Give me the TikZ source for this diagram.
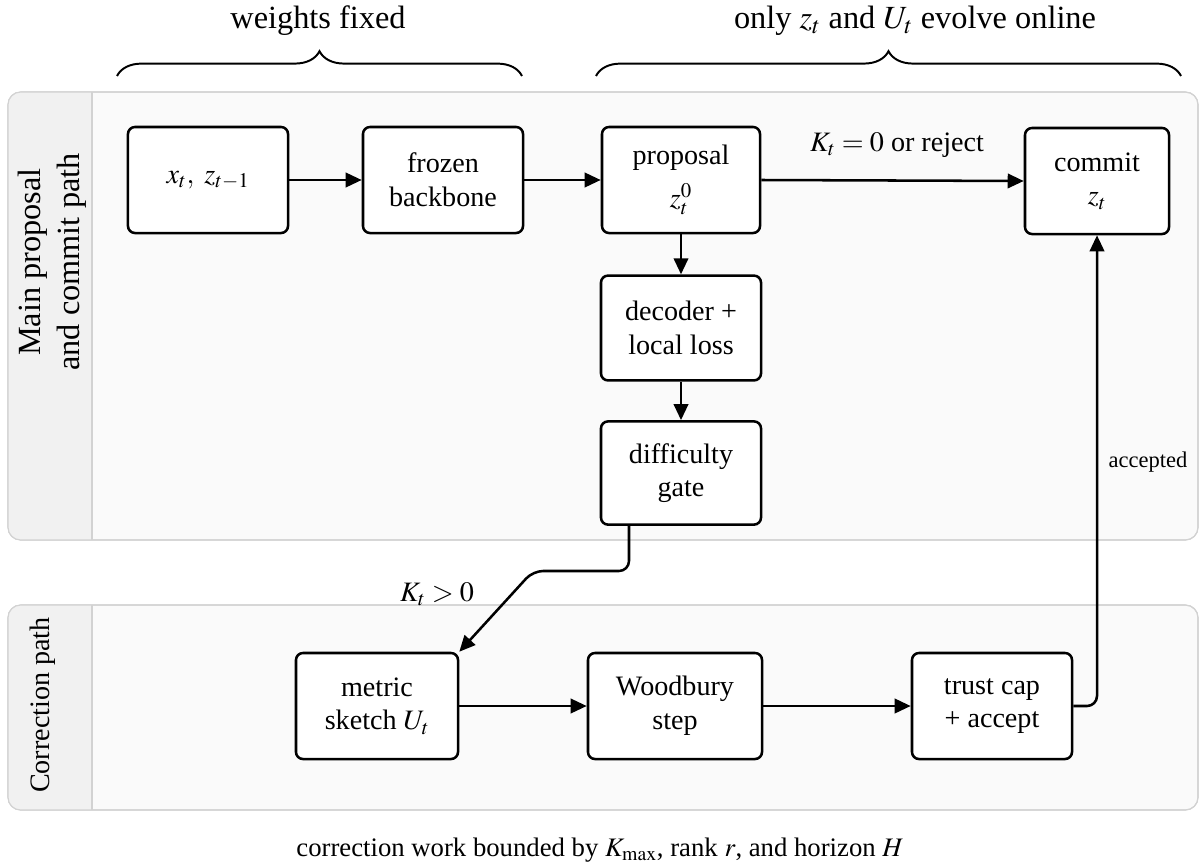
\documentclass[tikz,border=0pt]{standalone}
\usepackage{mathptmx}
\usepackage{fontspec}
\setmainfont{Liberation Serif}
\usetikzlibrary{arrows.meta, decorations.pathreplacing, calc}

\definecolor{laneline}{HTML}{D2D2D2}
\definecolor{lanefill}{HTML}{FAFAFA}
\definecolor{headfill}{HTML}{F1F1F1}

\begin{document}
\begin{tikzpicture}[
    x=0.025cm, y=-0.025cm,
    font=\fontsize{20}{24}\selectfont,
    arr/.style={-{Triangle[length=0.4cm, width=0.36cm]}, line width=1.8pt},
    box/.style={
        rectangle,
        rounded corners=5pt,
        draw=black,
        line width=1.8pt,
        fill=white,
        minimum width=4cm,
        minimum height=2.65cm,
        align=center,
        inner sep=2pt
    },
    lane/.style={draw=laneline, line width=0.8pt, rounded corners=9pt},
    lanelabel/.style={rotate=90, align=center},
    brace/.style={decorate, decoration={brace, amplitude=0.62cm}, line width=1.4pt},
    bigtext/.style={font=\fontsize{23}{27.6}\selectfont},
    smalltext/.style={font=\fontsize{16}{19}\selectfont}
]

\useasboundingbox [fill=white] (0,0) rectangle (1200,867);

% === LANES ===
\foreach \ltop/\lbot in {92/540, 605/810} {
    \path [lane, fill=lanefill] (8,\ltop) rectangle (1198,\lbot);
    \begin{scope}
    \clip [rounded corners=9pt] (8,\ltop) rectangle (1198,\lbot);
    \fill [headfill] (8,\ltop) rectangle (92,\lbot);
    \end{scope}
    \draw [laneline, line width=0.8pt] (92,\ltop) -- (92,\lbot);
    \draw [lane] (8,\ltop) rectangle (1198,\lbot);
}
\node (mainlabel) [lanelabel, bigtext] at (52,262) {Main proposal\\and commit path};
\node (corrlabel) [lanelabel] at (43,705) {Correction path};

% === TOP BRACES ===
\coordinate (fixedL) at (117,76);
\coordinate (fixedR) at (522,76);
\coordinate (onlineL) at (596,76);
\coordinate (onlineR) at (1181,76);
\draw [brace] (fixedL) -- (fixedR);
\draw [brace] (onlineL) -- (onlineR);
\node (fixedlabel) [bigtext] at (318,21) {weights fixed};
\node (onlinelabel) [bigtext] at (915,21) {only $z_t$ and $U_t$ evolve online};

% === MAIN PROPOSAL AND COMMIT PATH ===
\node (input) [box] at (208,180) {$x_t,\ z_{t-1}$};
\node (backbone) [box] at (443,180) {frozen\\backbone};
\node (proposal) [box, minimum width=3.95cm] at (681,180) {proposal\\[7pt]$z_t^0$};
\node (commit) [box, minimum width=3.6cm] at (1097,181) {commit\\$z_t$};
\node (decoder) [box, minimum height=2.62cm] at (681,328) {decoder +\\local loss};
\node (gate) [box, minimum height=2.58cm] at (681,473) {difficulty\\gate};

\draw [arr] (input.east) -- (backbone.west);
\draw [arr] (backbone.east) -- (proposal.west);
\draw [arr] (proposal.east) -- (commit.west);
\draw [arr] (proposal.south) -- (decoder.north);
\draw [arr] (decoder.south) -- (gate.north);
\node (rejectlabel) at (897,145) {$K_t = 0$ or reject};

% === CORRECTION PATH ===
\node (metric) [box, minimum width=4.05cm] at (377,706) {metric\\sketch $U_t$};
\node (woodbury) [box, minimum width=4.35cm] at (675,706) {Woodbury\\step};
\node (trust) [box] at (992,706) {trust cap\\+ accept};

\draw [arr] (metric.east) -- (woodbury.west);
\draw [arr] (woodbury.east) -- (trust.west);

% === LINKS BETWEEN LANES ===
\coordinate (bend) at (533,571);
\draw [arr, rounded corners=0.25cm] ([xshift=-1.3cm]gate.south) |- (bend) -- (metric.north east);
\node (kposlabel) at (437,594) {$K_t > 0$};

\draw [arr, rounded corners=0.25cm] (trust.east) -| (commit.south);
\node (acceptlabel) [smalltext] at (1148,462) {accepted};

% === CAPTION ===
\node (caption) [font=\fontsize{19}{23}\selectfont] at (600,850) {correction work bounded by $K_{\max}$, rank $r$, and horizon $H$};

\end{tikzpicture}
\end{document}
